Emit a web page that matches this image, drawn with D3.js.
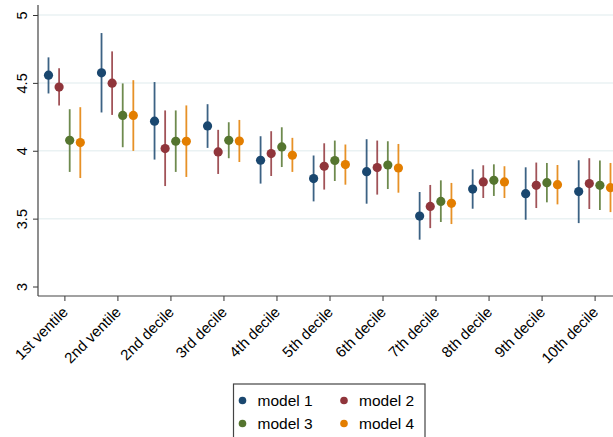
<!DOCTYPE html>
<html>
<head>
<meta charset="utf-8">
<script src="https://cdn.jsdelivr.net/npm/d3@7"></script>
<style>
  body { margin: 0; background: #fff; }
  svg { display: block; font-family: "Liberation Sans", Arial, sans-serif; }
</style>
</head>
<body>
<div id="chart"></div>
<script>
var width = 613,
    height = 437;

// categories along the x axis
var categories = ["1st ventile", "2nd ventile", "2nd decile", "3rd decile", "4th decile",
  "5th decile", "6th decile", "7th decile", "8th decile", "9th decile", "10th decile"];

var models = ["model 1", "model 2", "model 3", "model 4"];
var colors = ["#1a476f", "#90353b", "#55752f", "#e37e00"];

// point estimates, one array per model (same order as categories)
var est1 = [4.557, 4.574, 4.218, 4.183, 3.930, 3.795, 3.846, 3.519, 3.718, 3.684, 3.699];
var est2 = [4.469, 4.498, 4.016, 3.991, 3.979, 3.886, 3.876, 3.590, 3.770, 3.745, 3.758];
var est3 = [4.077, 4.260, 4.070, 4.077, 4.028, 3.928, 3.895, 3.627, 3.782, 3.765, 3.745];
var est4 = [4.060, 4.260, 4.070, 4.072, 3.967, 3.898, 3.873, 3.613, 3.770, 3.750, 3.728];

// confidence interval bounds
var lo1 = [4.422, 4.282, 3.935, 4.021, 3.758, 3.627, 3.610, 3.345, 3.573, 3.492, 3.467];
var hi1 = [4.688, 4.867, 4.506, 4.343, 4.107, 3.965, 4.085, 3.696, 3.863, 3.878, 3.930];
var lo2 = [4.334, 4.264, 3.740, 3.829, 3.814, 3.714, 3.677, 3.430, 3.652, 3.578, 3.571];
var hi2 = [4.607, 4.732, 4.297, 4.154, 4.144, 4.055, 4.075, 3.748, 3.893, 3.913, 3.945];
var lo3 = [3.844, 4.026, 3.844, 3.945, 3.880, 3.777, 3.718, 3.475, 3.667, 3.620, 3.563];
var hi3 = [4.306, 4.496, 4.297, 4.210, 4.173, 4.075, 4.070, 3.782, 3.900, 3.910, 3.928];
var lo4 = [3.799, 3.999, 3.807, 3.917, 3.844, 3.750, 3.691, 3.460, 3.652, 3.605, 3.548];
var hi4 = [4.321, 4.520, 4.334, 4.227, 4.095, 4.046, 4.050, 3.763, 3.886, 3.895, 3.910];

var yTicks = [3, 3.5, 4, 4.5, 5];
var gridTicks = [3.5, 4, 4.5, 5];

var ests = [est1, est2, est3, est4],
    los = [lo1, lo2, lo3, lo4],
    his = [hi1, hi2, hi3, hi4];

var points = [];
models.forEach(function(m, i) {
  categories.forEach(function(c, j) {
    points.push({model: m, cat: c, est: ests[i][j], lo: los[i][j], hi: his[i][j], color: colors[i]});
  });
});

var axisX = 38, axisY = 296;

var x = d3.scalePoint().domain(categories).range([64.4, 594.6]);
var offset = d3.scalePoint().domain(models).range([-15.9, 15.9]);
var y = d3.scaleLinear().domain([3, 5]).range([286.5, 15]);

var svg = d3.select("#chart").append("svg")
    .attr("width", width)
    .attr("height", height);

// grid
svg.append("g").attr("class", "grid")
  .selectAll("line").data(gridTicks)
  .enter().append("line")
    .attr("x1", axisX).attr("x2", width)
    .attr("y1", d => y(d)).attr("y2", d => y(d))
    .attr("stroke", "#eaf2f3")
    .attr("stroke-width", 1.5);

// y axis
var yAxis = svg.append("g")
    .attr("transform", "translate(" + axisX + ",0)")
    .call(d3.axisLeft(y).tickValues(yTicks).tickFormat(d3.format("")).tickSize(5).tickSizeOuter(0));
yAxis.select(".domain").remove();
yAxis.selectAll(".tick line").attr("stroke", "#333");
yAxis.selectAll(".tick text")
    .attr("transform", "rotate(-90)")
    .attr("x", 0).attr("y", -11)
    .attr("dy", 0)
    .attr("text-anchor", "middle")
    .style("font-size", "14.5px")
    .attr("fill", "#000");

// x axis
var xAxis = svg.append("g")
    .attr("transform", "translate(0," + axisY + ")")
    .call(d3.axisBottom(x).tickSize(5).tickSizeOuter(0));
xAxis.select(".domain").remove();
xAxis.selectAll(".tick line").attr("stroke", "#333");
xAxis.selectAll(".tick text")
    .attr("text-anchor", "end")
    .attr("x", 0).attr("y", 0).attr("dy", 0)
    .attr("transform", "translate(4,17) rotate(-45)")
    .style("font-size", "15px")
    .attr("fill", "#000");

// axis lines
svg.append("line")
    .attr("x1", axisX).attr("x2", axisX).attr("y1", 5).attr("y2", axisY)
    .attr("stroke", "#444").attr("stroke-width", 1.2);
svg.append("line")
    .attr("x1", axisX).attr("x2", width).attr("y1", axisY).attr("y2", axisY)
    .attr("stroke", "#444").attr("stroke-width", 1.2);

// confidence intervals
svg.append("g").attr("class", "ci")
  .selectAll("line").data(points)
  .enter().append("line")
    .attr("x1", d => x(d.cat) + offset(d.model))
    .attr("x2", d => x(d.cat) + offset(d.model))
    .attr("y1", d => y(d.lo))
    .attr("y2", d => y(d.hi))
    .attr("stroke", d => d.color)
    .attr("stroke-opacity", 0.85)
    .attr("stroke-width", 1.8);

// point estimates
svg.append("g").attr("class", "dots")
  .selectAll("circle").data(points)
  .enter().append("circle")
    .attr("cx", d => x(d.cat) + offset(d.model))
    .attr("cy", d => y(d.est))
    .attr("r", 4.6)
    .attr("fill", d => d.color);

// legend
var legend = svg.append("g").attr("class", "legend");
legend.append("rect")
    .attr("x", 233.5).attr("y", 384)
    .attr("width", 191.5).attr("height", 60)
    .attr("fill", "#fff")
    .attr("stroke", "#444")
    .attr("stroke-width", 1.2);

var item = legend.selectAll("g.item").data(models)
  .enter().append("g")
    .attr("class", "item")
    .attr("transform", (d, i) => "translate(" + (242.5 + (i % 2) * 101.5) + "," + (400.5 + Math.floor(i / 2) * 23) + ")");
item.append("circle")
    .attr("r", 3.8)
    .attr("fill", (d, i) => colors[i]);
item.append("text")
    .attr("x", 15)
    .attr("dy", "0.35em")
    .style("font-size", "15.5px")
    .text(d => d);
</script>
</body>
</html>
